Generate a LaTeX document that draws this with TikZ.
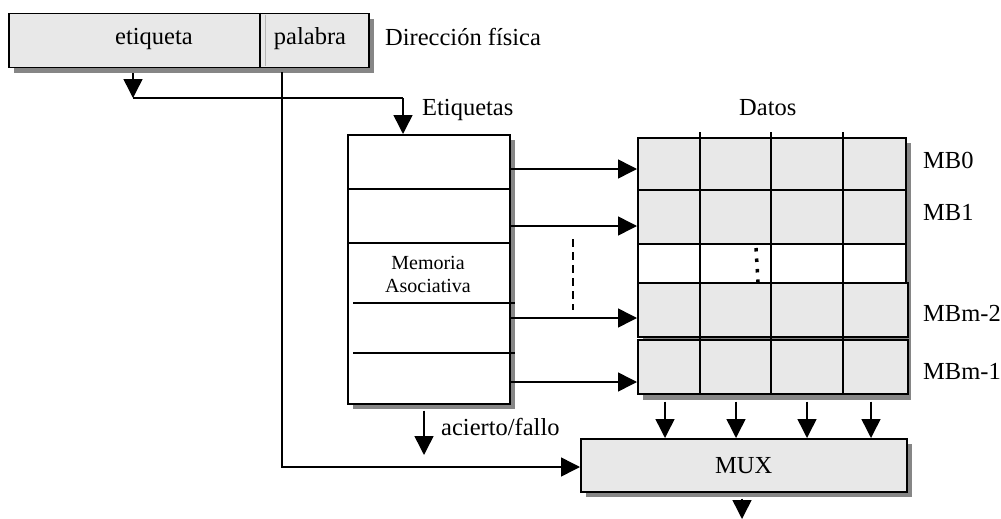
\documentclass[tikz,border=0pt]{standalone}
\usepackage{fontspec}
\setmainfont{Liberation Serif}
\usetikzlibrary{arrows.meta,shadows}
\definecolor{boxgray}{HTML}{E8E8E8}
\definecolor{shadegray}{HTML}{868686}
\begin{document}
\begin{tikzpicture}[x=1pt,y=-1pt,
  lw/.style={line width=1.5pt},
  sh/.style={drop shadow={shadow xshift=5pt,shadow yshift=-5pt,fill=shadegray,opacity=1}},
  box/.style={draw,lw,fill=boxgray,inner sep=0pt,anchor=north west,sh},
  wbox/.style={draw,lw,fill=white,inner sep=0pt,anchor=north west,sh},
  cell/.style={draw,lw,fill=boxgray,inner sep=0pt,anchor=north west},
  lbl/.style={font=\fontsize{24.5}{28}\selectfont,inner sep=0pt},
  arr/.style={lw,-{Triangle[length=19pt,width=19pt]}},
  conn/.style={lw}]
\useasboundingbox (0,0) rectangle (1001,519);
% address box
\node[box,minimum width=360pt,minimum height=54pt] (addr) at (8,13) {};
\draw[lw] (260,13) -- (260,67);
\draw[line width=1pt,shadegray!60] (265,15) -- (265,66);
\node[lbl,anchor=base] (tet) at (154,45) {etiqueta};
\node[lbl,anchor=base] (tpal) at (310,45) {palabra};
\node[lbl,anchor=base west] (tdir) at (385,46) {Dirección física};
% associative memory
\node[wbox,minimum width=162pt,minimum height=269pt] (mem) at (347,134) {};
\draw[lw] (347,189) -- (511,189);
\draw[lw] (347,243) -- (511,243);
\draw[lw] (353,303) -- (515,303);
\draw[lw] (353,353) -- (515,353);
\node[font=\fontsize{20}{23}\selectfont,align=center,inner sep=0pt] (tmem) at (428,274) {Memoria\\Asociativa};
\node[lbl,anchor=base west] (tetq) at (422,115) {Etiquetas};
\node[lbl,anchor=base west] (tdat) at (739,115) {Datos};
% data grid
\fill[shadegray] (643,143) rectangle (911,400);
\node[cell,minimum width=268pt,minimum height=52pt] (row0) at (637,137) {};
\node[cell,minimum width=268pt,minimum height=54pt] (row1) at (637,189) {};
\node[cell,fill=white,minimum width=268pt,minimum height=39pt] (row2) at (637,243) {};
\node[cell,minimum width=270pt,minimum height=54pt] (row3) at (637,282) {};
\node[cell,minimum width=270pt,minimum height=54pt] (row4) at (637,339) {};
\foreach \cx in {700,771,843} {\draw[lw] (\cx,132) -- (\cx,393);}
\draw[line width=3.5pt,dash pattern=on 3.5pt off 7pt] (756,248) -- (758,282);
\node[lbl,anchor=base west] (mb0) at (923,168) {MB0};
\node[lbl,anchor=base west] (mb1) at (923,220) {MB1};
\node[lbl,anchor=base west] (mb2) at (923,321) {MBm-2};
\node[lbl,anchor=base west] (mb3) at (923,379) {MBm-1};
% MUX
\node[box,lbl,minimum width=326pt,minimum height=53pt] (mux) at (580,438) {MUX};
% connectors
\coordinate (j1) at (133,98);
\coordinate (j2) at (403,98);
\draw[arr] ([yshift=-5pt]addr.south -| j1) -- (j1);
\draw[conn] (j1) -- (j2);
\draw[arr] (j2) -- (j2 |- mem.north);
\coordinate (p1) at (282,467);
\draw[arr] ([yshift=-4pt]addr.south -| p1) -- (p1) -- (p1 -| mux.west);
\foreach \ay [count=\i] in {169,226,318,382} {
  \coordinate (a\i) at (0,\ay);
  \draw[arr] (mem.east |- a\i) -- (row0.west |- a\i);
}
\draw[lw,dash pattern=on 8pt off 5pt] (573,239) -- (573,310);
\foreach \cx [count=\i] in {665,736,807,871} {
  \coordinate (d\i) at (\cx,0);
  \draw[arr] ([yshift=-7pt]row4.south -| d\i) -- (mux.north -| d\i);
}
\coordinate (out) at (742,519);
\draw[arr] ([yshift=-6pt]mux.south -| out) -- (out);
\coordinate (af) at (424,455);
\draw[arr] ([yshift=-6pt]mem.south -| af) -- (af);
\node[lbl,anchor=base west] (taf) at (441,435) {acierto/fallo};
\end{tikzpicture}
\end{document}
